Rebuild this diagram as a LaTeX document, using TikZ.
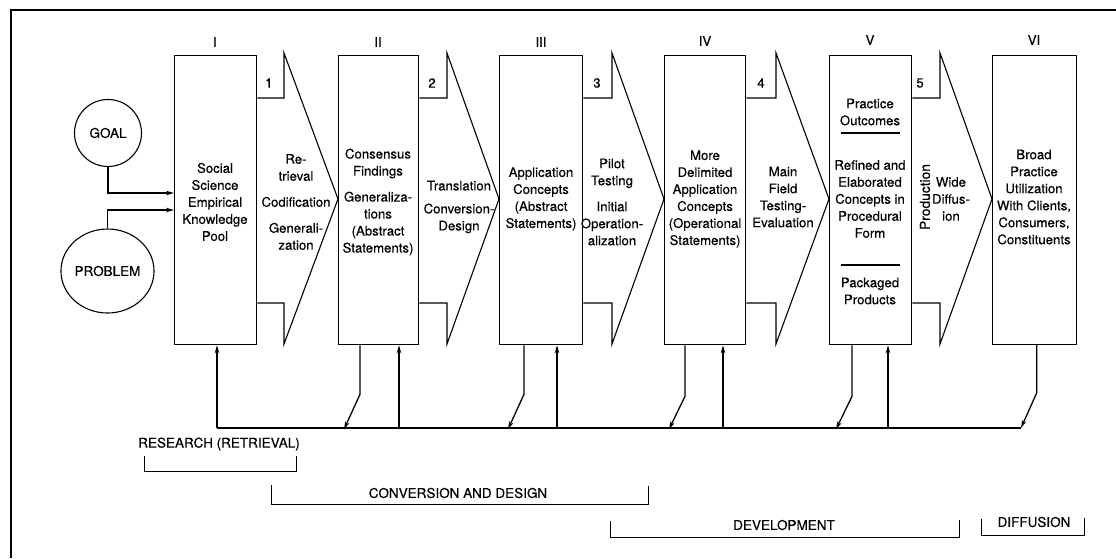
\documentclass[tikz,border=0pt]{standalone}
\usepackage{fontspec}
\setmainfont{TeX Gyre Heros}[FakeBold=0.35]
\usetikzlibrary{arrows.meta,shapes.geometric,calc}
\begin{document}
\begin{tikzpicture}[x=1pt,y=-1pt,
  box/.style={draw,line width=1.3pt,minimum height=289pt,anchor=north west,inner sep=0pt},
  txt/.style={align=center,font=\fontsize{13.2}{17}\selectfont,inner sep=0pt},
  capt/.style={font=\fontsize{13.5}{16}\selectfont,inner sep=0pt},
  chev/.style={line width=1.1pt,line join=miter},
  fb/.style={line width=1.3pt},
  arr/.style={fb,-{Stealth[length=8pt,width=4.5pt]}},
  brk/.style={line width=1pt},
  rule/.style={line width=1.1pt}]
\useasboundingbox (0,0) rectangle (1116,558);
% frame
\draw[line width=2.6pt] (1116,10) -- (11,10) -- (11,558);
% boxes
\node[box,minimum width=82pt] (b1) at (174,55) {};
\node[box,minimum width=80pt] (b2) at (338,55) {};
\node[box,minimum width=83pt] (b3) at (499,55) {};
\node[box,minimum width=81pt] (b4) at (664,55) {};
\node[box,minimum width=82pt] (b5) at (829,55) {};
\node[box,minimum width=84pt] (b6) at (992,55) {};
% roman numerals
\node[txt] (r1) at (215,42) {I};
\node[txt] (r2) at (378,42) {II};
\node[txt] (r3) at (541,42) {III};
\node[txt] (r4) at (705,41) {IV};
\node[txt] (r5) at (870,40) {V};
\node[txt] (r6) at (1034,40) {VI};
% chevrons
\draw[chev] (b1.east |- 0,98) -- (284,98) -- (284,53) -- (b2.west |- 0,199) -- (284,344) -- (284,303) -- (b1.east |- 0,303);
\draw[chev] (b2.east |- 0,98) -- (447,98) -- (447,53) -- (b3.west |- 0,199) -- (447,344) -- (447,303) -- (b2.east |- 0,303);
\draw[chev] (b3.east |- 0,98) -- (612,98) -- (612,53) -- (b4.west |- 0,199) -- (612,344) -- (612,303) -- (b3.east |- 0,303);
\draw[chev] (b4.east |- 0,98) -- (776,98) -- (776,53) -- (b5.west |- 0,199) -- (776,344) -- (776,303) -- (b4.east |- 0,303);
\draw[chev] (b5.east |- 0,98) -- (940,98) -- (940,53) -- (b6.west |- 0,199) -- (940,344) -- (940,303) -- (b5.east |- 0,303);
% step numbers
\node[txt] (n1) at (269,83) {1};
\node[txt] (n2) at (432,83) {2};
\node[txt] (n3) at (597,83) {3};
\node[txt] (n4) at (761,83) {4};
\node[txt] (n5) at (920,83) {5};
% box texts
\node[txt] (t1) at (215,202) {Social\\Science\\Empirical\\Knowledge\\Pool};
\node[txt] (t2) at (378,202) {Consensus\\Findings\\[9pt]Generaliza-\\tions\\(Abstract\\Statements)};
\node[txt] (t3) at (541,199) {Application\\Concepts\\(Abstract\\Statements)};
\node[txt] (t4) at (705,199) {More\\Delimited\\Application\\Concepts\\(Operational\\Statements)};
\node[txt] (t5a) at (870,112) {Practice\\Outcomes};
\node[txt] (t5b) at (870,199) {Refined and\\Elaborated\\Concepts in\\Procedural\\Form};
\node[txt] (t5c) at (870,291) {Packaged\\Products};
\draw[rule] (841,133) -- (900,133);
\draw[rule] (841,265) -- (900,265);
\node[txt] (t6) at (1034,197) {Broad\\Practice\\Utilization\\With Clients,\\Consumers,\\Constituents};
% chevron texts
\node[txt] (c1) at (296,202) {Re-\\trieval\\[9pt]Codification\\[9pt]Generali-\\zation};
\node[txt] (c2) at (459,207) {Translation\\[6pt]Conversion-\\Design};
\node[txt] (c3) at (612,202) {Pilot\\Testing\\[9pt]Initial\\Operation-\\alization};
\node[txt] (c4) at (783,197) {Main\\Field\\Testing-\\Evaluation};
\node[txt,rotate=90,font=\fontsize{13.8}{17}\selectfont] (c5a) at (925,197) {Production};
\node[txt] (c5b) at (951,199) {Wide\\Diffus-\\ion};
% goal / problem
\node[circle,draw,line width=1.1pt,minimum size=67pt,inner sep=0pt,capt] (goal) at (108,133) {GOAL};
\node[ellipse,draw,line width=1.1pt,minimum width=73pt,minimum height=84pt,inner sep=0pt,capt] (problem) at (107.5,271) {PROBLEM};
\draw[arr] (goal.south) |- (b1.west |- 0,193);
\draw[arr] (problem.north) |- (b1.west |- 0,210);
% feedback system
\coordinate (fbL) at (217,428);
\coordinate (fbR) at (1021,428);
\draw[fb] (fbL) -- (fbR);
\draw[arr] (fbL) -- (fbL |- b1.south);
\draw[arr] ($(b2.south west)+(61,84)$) -- ($(b2.south west)+(61,0)$);
\draw[arr] ($(b3.south west)+(58,84)$) -- ($(b3.south west)+(58,0)$);
\draw[arr] ($(b4.south west)+(59,84)$) -- ($(b4.south west)+(59,0)$);
\draw[arr] ($(b5.south west)+(59,84)$) -- ($(b5.south west)+(59,0)$);
\draw[arr] ($(b2.south west)+(22,0)$) -- ++(0,49) -- ++(-16,35);
\draw[arr] ($(b3.south west)+(25,0)$) -- ++(0,49) -- ++(-16,35);
\draw[arr] ($(b4.south west)+(21,0)$) -- ++(0,51) -- ++(-16,33);
\draw[arr] ($(b5.south west)+(23,0)$) -- ++(0,51) -- ++(-16,33);
\draw[arr] (b6.south |- 0,344) ++(2,0) -- ++(0,49) -- (fbR);
% phase brackets
\node[capt] (ph1) at (219,444) {RESEARCH (RETRIEVAL)};
\draw[brk] (144,456) -- (144,471) -- (296,471) -- (296,456);
\node[capt] (ph2) at (458,493) {CONVERSION AND DESIGN};
\draw[brk] (271,485) -- (271,504) -- (648,504) -- (648,486);
\node[capt] (ph3) at (784,525) {DEVELOPMENT};
\draw[brk] (610,521) -- (610,537) -- (959,537) -- (959,520);
\node[capt] (ph4) at (1034,522) {DIFFUSION};
\draw[brk] (981,519) -- (981,535) -- (1084,535) -- (1084,518);
\end{tikzpicture}
\end{document}
